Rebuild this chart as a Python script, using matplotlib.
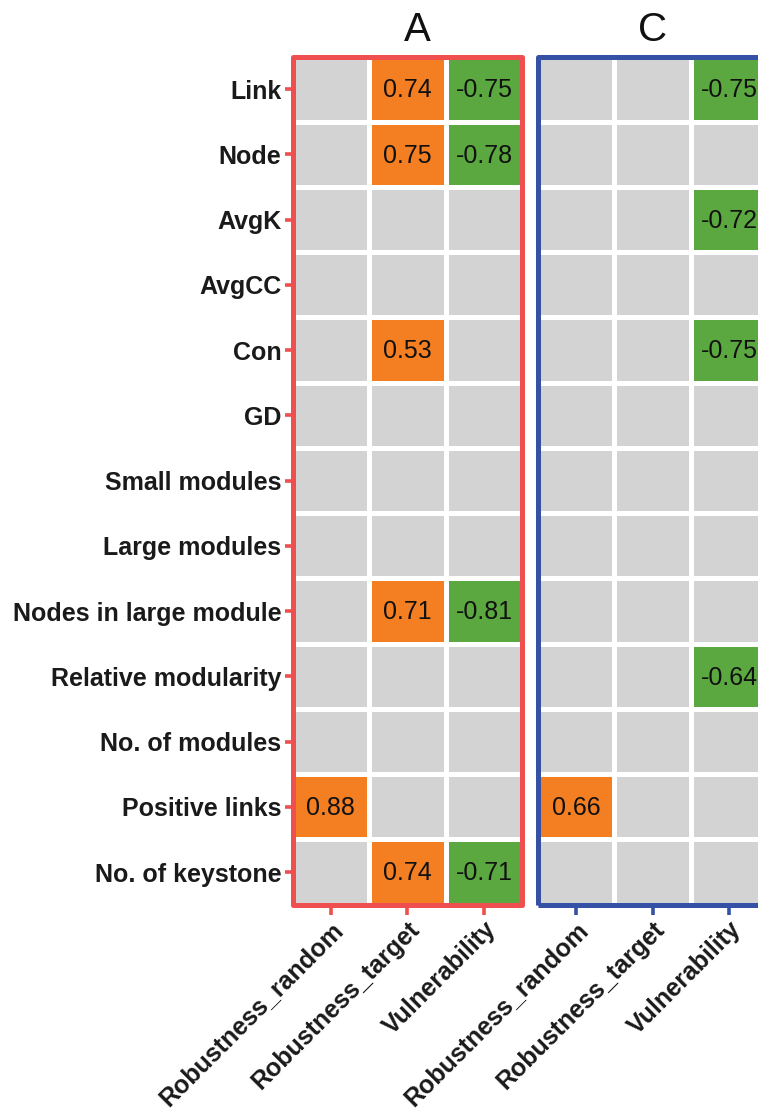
import numpy as np
import matplotlib
matplotlib.use("Agg")
import matplotlib.pyplot as plt
from matplotlib.colors import ListedColormap
from matplotlib.patches import Rectangle

nan = np.nan

rows = ["Link", "Node", "AvgK", "AvgCC", "Con", "GD", "Small modules",
        "Large modules", "Nodes in large module", "Relative modularity",
        "No. of modules", "Positive links", "No. of keystone"]
cols = ["Robustness_random", "Robustness_target", "Vulnerability"]
panels = ["A", "C"]

A_random = [nan, nan, nan, nan, nan, nan, nan, nan, nan, nan, nan, 0.88, nan]
A_target = [0.74, 0.75, nan, nan, 0.53, nan, nan, nan, 0.71, nan, nan, nan, 0.74]
A_vuln = [-0.75, -0.78, nan, nan, nan, nan, nan, nan, -0.81, nan, nan, nan, -0.71]

C_random = [nan, nan, nan, nan, nan, nan, nan, nan, nan, nan, nan, 0.66, nan]
C_target = [nan] * 13
C_vuln = [-0.75, nan, -0.72, nan, -0.75, nan, nan, nan, nan, -0.64, nan, nan, nan]

panel_data = {
    "A": [A_random, A_target, A_vuln],
    "C": [C_random, C_target, C_vuln],
}
frame_colors = {"A": "#EF4F4F", "C": "#3551A6"}
title_x = {"A": 0.545, "C": 0.5}

GREY = "#D3D3D3"
ORANGE = "#F47E22"
GREEN = "#5AA83F"
cmap = ListedColormap([GREY, ORANGE, GREEN])

plt.rcParams["font.family"] = ["Liberation Sans", "DejaVu Sans"]

W, H = 758, 1113
fig = plt.figure(figsize=(W / 100, H / 100), dpi=100)

ax_w = 230 / W
ax_h = 848.2 / H
ax_b = 1 - 904.7 / H
lefts = {"A": 292.5 / W, "C": 537.5 / W}

for p in panels:
    ax = fig.add_axes([lefts[p], ax_b, ax_w, ax_h])
    vals = np.array(panel_data[p], dtype=float).T  # rows x cols
    cat = np.zeros_like(vals)
    cat[vals > 0] = 1
    cat[vals < 0] = 2
    ax.pcolormesh(np.arange(len(cols) + 1), np.arange(len(rows) + 1), cat,
                  cmap=cmap, vmin=-0.5, vmax=2.5, edgecolors="white",
                  linewidth=2.3)
    for i in range(len(rows)):
        for j in range(len(cols)):
            v = vals[i, j]
            if not np.isnan(v):
                ax.text(j + 0.5, i + 0.52, f"{v:.2f}", ha="center",
                        va="center", fontsize=18, color="#111111")
    ax.set_xlim(0, len(cols))
    ax.set_ylim(len(rows), 0)
    for s in ax.spines.values():
        s.set_visible(False)
    fc = frame_colors[p]
    ax.add_patch(Rectangle((0, 0), 1, 1, transform=ax.transAxes, fill=False,
                           edgecolor=fc, linewidth=3.6, joinstyle="round",
                           clip_on=False, zorder=5))
    ax.set_xticks(np.arange(len(cols)) + 0.5)
    ax.set_xticklabels(cols, fontsize=18, fontweight="bold", color="#1a1a1a")
    ax.tick_params(axis="x", length=7, width=2.6, color=fc, pad=2)
    plt.setp(ax.get_xticklabels(), rotation=45, ha="right", va="top",
             rotation_mode="anchor")
    ax.set_yticks(np.arange(len(rows)) + 0.5)
    if p == "A":
        ax.set_yticklabels(rows, fontsize=18, fontweight="bold",
                           color="#1a1a1a")
        ax.tick_params(axis="y", length=6.0, width=2.6, color=fc, pad=2)
    else:
        ax.set_yticklabels([])
        ax.tick_params(axis="y", length=0)
    ax.set_title(p, fontsize=29, pad=11, color="#111111", x=title_x[p])

fig.savefig("out.png", dpi=100)
